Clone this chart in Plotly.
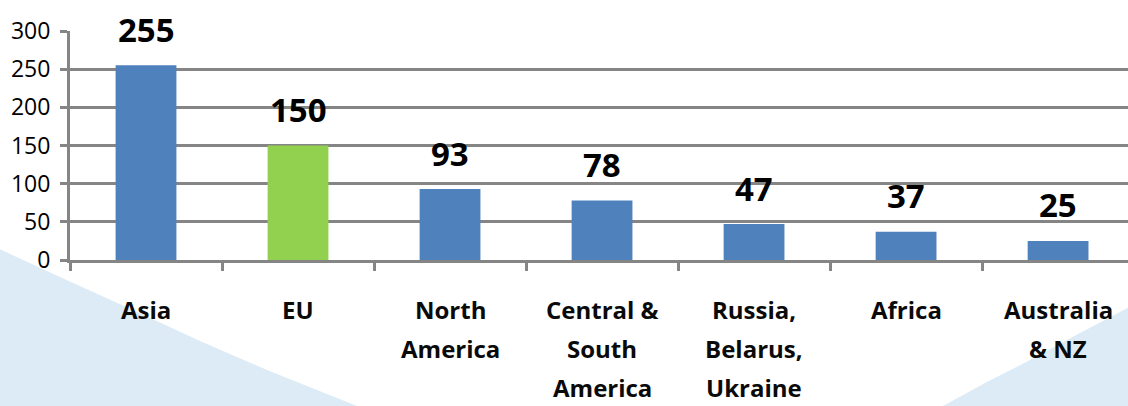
import plotly.graph_objects as go

categories = ["Asia", "EU", "North America", "Central & South America",
              "Russia, Belarus, Ukraine", "Africa", "Australia & NZ"]
label_lines = [["Asia"], ["EU"], ["North", "America"], ["Central &", "South", "America"],
               ["Russia,", "Belarus,", "Ukraine"], ["Africa"], ["Australia", "& NZ"]]
values = [255, 150, 93, 78, 47, 37, 25]
bar_colors = ["#4F81BD", "#92D050", "#4F81BD", "#4F81BD", "#4F81BD", "#4F81BD", "#4F81BD"]
y_ticks = [0, 50, 100, 150, 200, 250, 300]

W, H = 1128, 406
L, T, B = 70, 31, 146
PW = 1058
PH = H - T - B
GRAY = "#858585"
FONT = "Open Sans"

fig = go.Figure()
fig.add_trace(go.Bar(x=categories, y=values, marker=dict(color=bar_colors, line=dict(width=0)),
                     width=0.4, hoverinfo="skip"))

# data labels
for c, v in zip(categories, values):
    fig.add_annotation(x=c, y=v, text=str(v), showarrow=False, yshift=36, yanchor="middle",
                       font=dict(family=FONT, size=33, color="black", weight="bold"))

# category labels, one per line
for c, lines in zip(categories, label_lines):
    for i, ln in enumerate(lines):
        fig.add_annotation(x=c, y=0, yref="y", text=ln, showarrow=False, yanchor="middle",
                           yshift=-(49 + 39 * i), borderpad=0,
                           font=dict(family=FONT, size=24, color="#0a0a0a", weight="bold"))

def px2paper(px, py):
    return (px - L) / PW, (H - B - py) / PH

def path(points):
    pts = [px2paper(x, y) for x, y in points]
    return "M " + " L ".join(f"{x:.4f},{y:.4f}" for x, y in pts) + " Z"

left_shape = [(-5, 247), (60, 277), (133, 310), (200, 341), (267, 370), (357, 406), (360, 420), (-5, 420)]
right_shape = [(943, 406), (985, 383), (1030, 360), (1080, 333), (1135, 304), (1135, 420), (940, 420)]
for pts in (left_shape, right_shape):
    fig.add_shape(type="path", path=path(pts), xref="paper", yref="paper",
                  fillcolor="#DDEBF6", line=dict(width=0), layer="below")

fig.update_layout(
    width=W, height=H,
    margin=dict(l=L, r=0, t=T, b=B),
    paper_bgcolor="white", plot_bgcolor="rgba(0,0,0,0)",
    showlegend=False, bargap=0.6,
    font=dict(family=FONT, color="black"),
)
fig.update_xaxes(type="category", range=[-0.5, 6.46], showticklabels=False,
                 ticks="outside", tickson="boundaries", ticklen=8, tickwidth=3, tickcolor=GRAY,
                 showline=True, linecolor=GRAY, linewidth=3, showgrid=False, zeroline=False,
                 fixedrange=True)
fig.update_yaxes(range=[0, 300], tickvals=y_ticks, ticks="outside", ticklen=7, tickwidth=3,
                 tickcolor=GRAY, showline=True, linecolor=GRAY, linewidth=3,
                 showgrid=True, gridcolor=GRAY, gridwidth=3, zeroline=False,
                 tickfont=dict(family=FONT, size=23, color="black"), ticklabelstandoff=5,
                 fixedrange=True)

fig.write_html("out.html")
